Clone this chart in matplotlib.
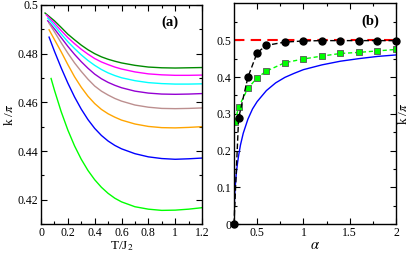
import matplotlib
matplotlib.use("Agg")
import matplotlib.pyplot as plt
from matplotlib.ticker import MultipleLocator, FixedLocator, FuncFormatter

plt.rcParams['font.family'] = ['Liberation Serif', 'DejaVu Serif']
plt.rcParams['mathtext.fontset'] = 'stix'

# ---------------- Panel (a) data ----------------
T_grid = [0.1, 0.15, 0.2, 0.25, 0.3, 0.35, 0.4, 0.45, 0.5, 0.55, 0.6, 0.7, 0.8, 0.9, 1.0, 1.1, 1.2]

T_dkgreen = [0.03] + T_grid
k_dkgreen = [0.4967, 0.4935, 0.4908, 0.4880, 0.4857, 0.4835, 0.4816, 0.4800, 0.4787, 0.4777, 0.4769,
             0.4762, 0.4752, 0.4745, 0.4742, 0.4741, 0.4742, 0.4743]
T_magenta = [0.04] + T_grid
k_magenta = [0.4959, 0.4925, 0.4895, 0.4866, 0.4841, 0.4818, 0.4798, 0.4780, 0.4766, 0.4755, 0.4745,
             0.4737, 0.4725, 0.4717, 0.4713, 0.4711, 0.4711, 0.4712]
T_cyan = [0.05] + T_grid
k_cyan = [0.4946, 0.4915, 0.4881, 0.4849, 0.4821, 0.4795, 0.4772, 0.4752, 0.4735, 0.4721, 0.4710,
          0.4701, 0.4689, 0.4681, 0.4677, 0.4675, 0.4675, 0.4676]
T_violet = [0.05] + T_grid
k_violet = [0.4935, 0.4902, 0.4866, 0.4830, 0.4797, 0.4767, 0.4740, 0.4716, 0.4697, 0.4682, 0.4670,
            0.4660, 0.4646, 0.4638, 0.4634, 0.4633, 0.4634, 0.4636]
T_brown = [0.06] + T_grid
k_brown = [0.4925, 0.4890, 0.4845, 0.4802, 0.4762, 0.4727, 0.4695, 0.4667, 0.4646, 0.4630, 0.4616,
           0.4605, 0.4589, 0.4580, 0.4575, 0.4574, 0.4575, 0.4577]
T_orange = [0.06] + T_grid
k_orange = [0.4898, 0.4858, 0.4808, 0.4755, 0.4705, 0.4662, 0.4625, 0.4595, 0.4571, 0.4553, 0.4539,
            0.4527, 0.4511, 0.4501, 0.4496, 0.4495, 0.4497, 0.4500]
T_blue = [0.06] + T_grid
k_blue = [0.4868, 0.4810, 0.4742, 0.4679, 0.4622, 0.4572, 0.4529, 0.4493, 0.4464, 0.4441, 0.4423,
          0.4409, 0.4389, 0.4376, 0.4369, 0.4366, 0.4368, 0.4371]
T_green = [0.075] + T_grid
k_green = [0.4698, 0.4650, 0.4562, 0.4486, 0.4421, 0.4366, 0.4320, 0.4282, 0.4251, 0.4226, 0.4206,
           0.4191, 0.4171, 0.4161, 0.4156, 0.4157, 0.4161, 0.4167]

curves_a = [
    (T_dkgreen, k_dkgreen, '#008b00'),
    (T_magenta, k_magenta, '#ff00ff'),
    (T_cyan, k_cyan, '#00ffff'),
    (T_violet, k_violet, '#9400d3'),
    (T_brown, k_brown, '#bc8f8f'),
    (T_orange, k_orange, '#ffa500'),
    (T_blue, k_blue, '#0000ff'),
    (T_green, k_green, '#00ff00'),
]

# ---------------- Panel (b) data ----------------
alpha_circ = [0.25, 0.3, 0.4, 0.5, 0.6, 0.8, 1.0, 1.2, 1.4, 1.6, 1.8, 2.0]
k_circ = [0.0, 0.288, 0.399, 0.466, 0.486, 0.495, 0.498, 0.499, 0.499, 0.499, 0.499, 0.499]
alpha_sq = [0.26, 0.3, 0.4, 0.5, 0.6, 0.8, 1.0, 1.2, 1.4, 1.6, 1.8, 2.0]
k_sq = [0.278, 0.318, 0.369, 0.398, 0.416, 0.439, 0.449, 0.457, 0.464, 0.467, 0.471, 0.475]
alpha_cl = [0.25, 0.251, 0.255, 0.26, 0.27, 0.28, 0.29, 0.3, 0.32, 0.35, 0.4, 0.45, 0.5, 0.6, 0.7,
            0.8, 0.9, 1.0, 1.2, 1.4, 1.6, 1.8, 2.0]
k_cl = [0.0, 0.028, 0.063, 0.089, 0.124, 0.149, 0.169, 0.186, 0.215, 0.247, 0.285, 0.313, 0.333,
        0.363, 0.384, 0.399, 0.410, 0.420, 0.433, 0.443, 0.450, 0.456, 0.460]
k_red = 0.5

fig = plt.figure(figsize=(4.11, 2.59), dpi=100)
axa = fig.add_axes([0.0998, 0.1351, 0.3917, 0.8456])
axb = fig.add_axes([0.5693, 0.1351, 0.3942, 0.8514])

fs = 8.5

for T, k, c in curves_a:
    axa.plot(T, k, color=c, lw=1.0)
axa.set_xlim(0, 1.2)
axa.set_ylim(0.41, 0.5)
axa.xaxis.set_major_locator(MultipleLocator(0.2))
axa.xaxis.set_minor_locator(MultipleLocator(0.1))
axa.yaxis.set_major_locator(FixedLocator([0.42, 0.44, 0.46, 0.48, 0.5]))
axa.yaxis.set_minor_locator(MultipleLocator(0.01))

def fmt(v, pos):
    s = ('%.2f' % v).rstrip('0').rstrip('.')
    return s
axa.xaxis.set_major_formatter(FuncFormatter(fmt))
axa.yaxis.set_major_formatter(FuncFormatter(fmt))
axa.set_xlabel('T/J$_2$', fontsize=fs + 1, labelpad=0)
axa.set_ylabel('k /$\\pi$', fontsize=fs + 1, labelpad=1)
axa.text(0.80, 0.92, '(a)', transform=axa.transAxes, fontsize=fs + 2,
         fontweight='bold', ha='center', va='center')

axb.axhline(k_red, color='#ff0000', lw=1.5, ls=(0, (5, 3)))
axb.plot(alpha_cl, k_cl, color='#0000ff', lw=1.0)
axb.plot(alpha_sq, k_sq, color='#00ff00', lw=1.0, ls=(0, (3, 2)),
         marker='s', ms=4.2, mfc='#00ff00', mec='#555555', mew=0.6)
axb.plot(alpha_circ, k_circ, color='black', lw=1.0, ls=(0, (4, 2)),
         marker='o', ms=5, mfc='black', mec='black', clip_on=False, zorder=5)
axb.set_xlim(0.25, 2)
axb.set_ylim(0, 0.6)
axb.xaxis.set_major_locator(FixedLocator([0.5, 1.0, 1.5, 2.0]))
axb.xaxis.set_minor_locator(FixedLocator([0.75, 1.25, 1.75]))
axb.yaxis.set_major_locator(FixedLocator([0, 0.1, 0.2, 0.3, 0.4, 0.5]))
axb.yaxis.set_minor_locator(FixedLocator([0.05, 0.15, 0.25, 0.35, 0.45, 0.55]))
axb.xaxis.set_major_formatter(FuncFormatter(fmt))
axb.yaxis.set_major_formatter(FuncFormatter(fmt))
axb.set_xlabel('$\\alpha$', fontsize=fs + 2, labelpad=0)
axb.yaxis.set_label_position('right')
axb.set_ylabel('k /$\\pi$', fontsize=fs + 1, labelpad=1)
axb.text(0.84, 0.918, '(b)', transform=axb.transAxes, fontsize=fs + 2,
         fontweight='bold', ha='center', va='center')

for ax in (axa, axb):
    ax.tick_params(which='both', direction='in', top=True, right=True,
                   labelsize=fs, width=0.8, pad=2)
    ax.tick_params(which='major', length=4)
    ax.tick_params(which='minor', length=2)
    for sp in ax.spines.values():
        sp.set_linewidth(1.0)

fig.savefig('out.png', dpi=100)
